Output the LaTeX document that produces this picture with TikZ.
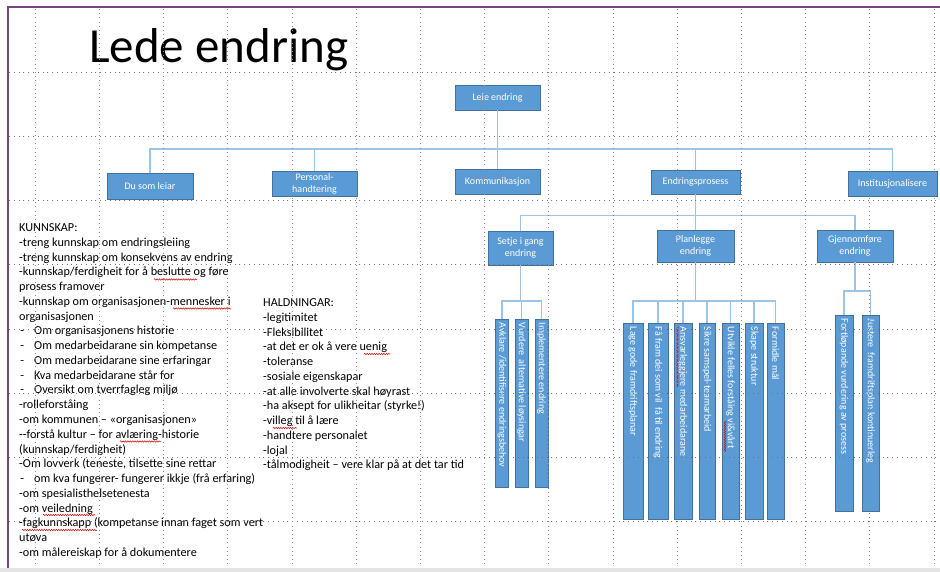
\documentclass[tikz,border=0pt]{standalone}
\usepackage{fontspec}
\setmainfont{Carlito}
\usetikzlibrary{calc,decorations.pathmorphing}

\definecolor{boxfill}{RGB}{91,155,213}
\definecolor{boxedge}{RGB}{65,113,156}
\definecolor{linkblue}{RGB}{157,195,230}
\definecolor{framecol}{RGB}{118,71,122}
\definecolor{bandgray}{RGB}{228,228,228}

% indented dash for the bulleted sub-items
\newcommand\bul{\hspace{1.2pt}\makebox[13.8pt][l]{-}}

\begin{document}
\begin{tikzpicture}[x=1pt,y=-1pt,
  orgbox/.style={draw=boxedge, fill=boxfill, line width=0.75pt, text=white,
    font=\fontsize{10}{12}\selectfont, align=center, inner sep=0pt},
  link/.style={draw=linkblue, line width=1.1pt},
  vlabel/.style={text=white, font=\fontsize{10}{12}\selectfont, rotate=-90,
    anchor=west, inner sep=0pt},
  bodytext/.style={font=\fontsize{12.2}{14.77}\selectfont, anchor=base west, inner sep=0pt},
  hgrid/.style={draw=black!55, line width=0.6pt, dash pattern=on 0.8pt off 4pt},
  vgrid/.style={draw=black!45, line width=0.6pt, dash pattern=on 0.8pt off 3.4pt},
  spell/.style={draw=red!85!black, line width=0.5pt, decorate,
    decoration={snake, amplitude=0.7pt, segment length=2.4pt}}]

\useasboundingbox (0,0) rectangle (940,572);
\fill[white] (0,0) rectangle (940,572);

% title
\node[anchor=base west, inner sep=0pt, font=\fontsize{49}{58}\selectfont] (title) at (89,63) {Lede endring};

% ---------- top of the chart ----------
\node[orgbox, minimum width=85pt, minimum height=25pt] (leie) at (497.5,97.5) {Leie endring};

\node[orgbox, minimum width=86pt, minimum height=26pt] (du)   at (150,186)    {Du som leiar};
\node[orgbox, minimum width=85pt, minimum height=25pt] (pers) at (314.5,183.5) {Personal-\\handtering};
\node[orgbox, minimum width=85pt, minimum height=25pt] (komm) at (497.5,181.5) {Kommunikasjon};
\node[orgbox, minimum width=89pt, minimum height=24pt] (endr) at (695.5,182)  {Endringsprosess};
\node[orgbox, minimum width=89pt, minimum height=25pt] (inst) at (892.5,183.5) {Institusjonalisere};

\coordinate (bus1) at (497.5,149);
\draw[link] (leie.south) -- (komm.north);
\draw[link] (du.north) |- (bus1) -| (inst.north);
\draw[link] (pers.north) -- (pers.north |- bus1);
\draw[link] (endr.north) -- (endr.north |- bus1);

% ---------- phases of the change process ----------
\node[orgbox, minimum width=65pt, minimum height=34pt] (setje) at (520.5,248) {Setje i gang\\endring};
\node[orgbox, minimum width=77pt, minimum height=32pt] (plan)  at (695.5,246) {Planlegge\\endring};
\node[orgbox, minimum width=76pt, minimum height=32pt] (gjen)  at (855,246)   {Gjennomføre\\endring};

\coordinate (bus2) at (695.5,215.5);
\draw[link] (endr.south) -- (plan.north);
\draw[link] (setje.north) |- (bus2) -| (gjen.north);

% ---------- tasks under "Setje i gang endring" ----------
\node[orgbox, minimum width=12.5pt, minimum height=168pt] (a1) at (502,403)   {};
\node[orgbox, minimum width=13pt,   minimum height=168pt] (a2) at (521.5,403) {};
\node[orgbox, minimum width=13pt,   minimum height=168pt] (a3) at (541.5,403) {};
\node[vlabel] (a1t) at ($(a1.north)+(0,4)$) {Avklare /identifisere endringsbehov};
\node[vlabel] (a2t) at ($(a2.north)+(0,4)$) {Vurdere\ \ alternative løysingar};
\node[vlabel] (a3t) at ($(a3.north)+(0,4)$) {Implementere endring};

\coordinate (bus3) at (520.5,301);
\draw[link] (setje.south) -- (bus3);
\draw[link] (a1.north) |- (bus3) -| (a3.north);
\draw[link] (a2.north) -- (a2.north |- bus3);

% ---------- tasks under "Planlegge endring" ----------
\node[orgbox, minimum width=20pt, minimum height=196pt] (p1) at (633,421)   {};
\node[orgbox, minimum width=20pt, minimum height=196pt] (p2) at (658,421)   {};
\node[orgbox, minimum width=18pt, minimum height=196pt] (p3) at (683,421)   {};
\node[orgbox, minimum width=16pt, minimum height=196pt] (p4) at (707,421)   {};
\node[orgbox, minimum width=17pt, minimum height=196pt] (p5) at (730.5,421) {};
\node[orgbox, minimum width=18pt, minimum height=196pt] (p6) at (754,421)   {};
\node[orgbox, minimum width=17pt, minimum height=196pt] (p7) at (775.5,421) {};
\node[vlabel] (p1t) at ($(p1.north)+(0,4)$) {Lage gode framdriftsplanar};
\node[vlabel] (p2t) at ($(p2.north)+(0,4)$) {Få fram dei som vil\ \ få til endring};
\node[vlabel] (p3t) at ($(p3.north)+(0,4)$) {Ansvarleggjere medarbeidarane};
\node[vlabel] (p4t) at ($(p4.north)+(0,4)$) {Sikre samspel-teamarbeid};
\node[vlabel] (p5t) at ($(p5.north)+(0,4)$) {Utvikle felles forståing vi\&vårt};
\node[vlabel] (p6t) at ($(p6.north)+(0,4)$) {Skape struktur};
\node[vlabel] (p7t) at ($(p7.north)+(0,4)$) {Formidle mål};

\coordinate (bus4) at (695.5,301);
\draw[link] (plan.south) -- (bus4);
\draw[link] (p1.north) |- (bus4) -| (p7.north);
\foreach \n in {p2,p3,p4,p5,p6}
  \draw[link] (\n.north) -- (\n.north |- bus4);

% ---------- tasks under "Gjennomføre endring" ----------
\node[orgbox, minimum width=18pt, minimum height=196pt] (g1) at (844,413)   {};
\node[orgbox, minimum width=17pt, minimum height=196pt] (g2) at (870.5,413) {};
\node[vlabel] (g1t) at ($(g1.north)+(0,4)$) {Fortløpande vurdering av prosess};
\node[vlabel] (g2t) at ($(g2.north)+(0,4)$) {Justere\ \ framdriftsplan kontinuerleg};

\coordinate (bus5) at (855,291);
\draw[link] (gjen.south) -- (bus5);
\draw[link] (g1.north) |- (bus5) -| (g2.north);

% ---------- knowledge list ----------
\foreach \t [count=\i from 0] in {
  {KUNNSKAP:},
  {-treng kunnskap om endringsleiing},
  {-treng kunnskap om konsekvens av endring},
  {-kunnskap/ferdigheit for å beslutte og føre},
  {prosess framover},
  {-kunnskap om organisasjonen-mennesker i},
  {organisasjonen},
  {\bul Om organisasjonens historie},
  {\bul Om medarbeidarane sin kompetanse},
  {\bul Om medarbeidarane sine erfaringar},
  {\bul Kva medarbeidarane står for},
  {\bul Oversikt om tverrfagleg miljø},
  {-rolleforståing},
  {-om kommunen – «organisasjonen»},
  {-{}-forstå kultur – for avlæring-historie},
  {(kunnskap/ferdigheit)},
  {-Om lovverk (teneste, tilsette sine rettar},
  {\bul om kva fungerer- fungerer ikkje (frå erfaring)},
  {-om spesialisthelsetenesta},
  {-om veiledning},
  {-fagkunnskapp (kompetanse innan faget som vert},
  {utøva},
  {-om målereiskap for å dokumentere}}
  \node[bodytext] (kn\i) at (19,231.5+\i*14.77) {\t};

% ---------- attitudes list ----------
\foreach \t [count=\i from 0] in {
  {HALDNINGAR:},
  {-legitimitet},
  {-Fleksibilitet},
  {-at det er ok å vere uenig},
  {-toleranse},
  {-sosiale eigenskapar},
  {-at alle involverte skal høyrast},
  {-ha aksept for ulikheitar (styrke!)},
  {-villeg til å lære},
  {-handtere personalet},
  {-lojal},
  {-tålmodigheit – vere klar på at det tar tid}}
  \node[bodytext] (ha\i) at (263,306.5+\i*14.77) {\t};

% spell-check underlines
\draw[spell] (154,279.5) -- (197,279.5);
\draw[spell] (173,308.5) -- (231,308.5);
\draw[spell] (120,441.5) -- (161,441.5);
\draw[spell] (43,515) -- (95,515);
\draw[spell] (22,530) -- (97,530);
\draw[spell] (364,354) -- (390,354);
\draw[spell] (273,428) -- (297,428);
\draw[spell] (677.5,327) -- (677.5,388);
\draw[spell] (725,421) -- (725,452);

% ---------- layout grid ----------
\foreach \k in {0,...,7}
  \draw[hgrid] (9,72+\k*64.25) -- (940,72+\k*64.25);
\foreach \k in {0,...,14}
  \draw[vgrid] (35+\k*64.2,9) -- (35+\k*64.2,567);

% ---------- slide frame ----------
\fill[bandgray] (0,567.5) rectangle (940,572);
\draw[framecol, line width=1.6pt] (8,567.5) -- (8,7) -- (940,7);

\end{tikzpicture}
\end{document}
